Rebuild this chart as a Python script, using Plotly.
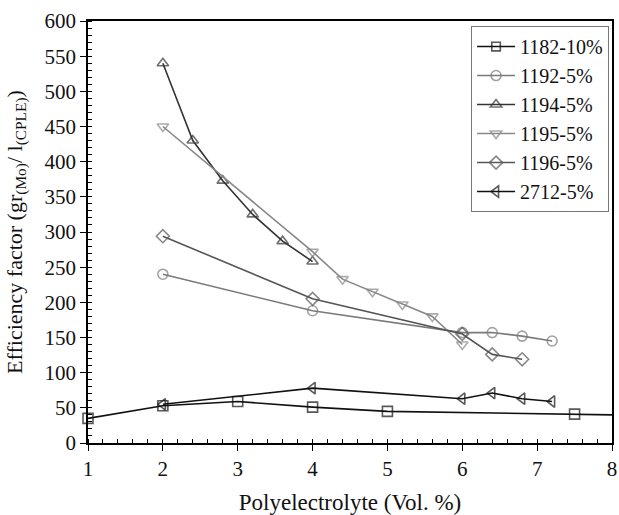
import plotly.graph_objects as go

# Data
x_1182 = [1, 2, 3, 4, 5, 7.5, 8]
y_1182 = [35, 53, 59, 51, 45, 41, 40]
x_1192 = [2, 4, 6, 6.4, 6.8, 7.2]
y_1192 = [240, 188, 157, 157, 152, 145]
x_1194 = [2, 2.4, 2.8, 3.2, 3.6, 4]
y_1194 = [540, 430, 373, 325, 287, 258]
x_1195 = [2, 4, 4.4, 4.8, 5.2, 5.6, 6]
y_1195 = [450, 272, 233, 215, 197, 180, 140]
x_1196 = [2, 4, 6, 6.4, 6.8]
y_1196 = [294, 205, 155, 126, 119]
x_2712 = [2, 4, 6, 6.4, 6.8, 7.2]
y_2712 = [55, 78, 63, 71, 63, 59]

series = [
    ("1182-10%", x_1182, y_1182, "square-open", "#111111"),
    ("1192-5%", x_1192, y_1192, "circle-open", "#7a7a7a"),
    ("1194-5%", x_1194, y_1194, "triangle-up-open", "#333333"),
    ("1195-5%", x_1195, y_1195, "triangle-down-open", "#888888"),
    ("1196-5%", x_1196, y_1196, "diamond-open", "#555555"),
    ("2712-5%", x_2712, y_2712, "triangle-left-open", "#111111"),
]

fig = go.Figure()
for name, xs, ys, sym, col in series:
    sizes = [10] * len(xs)
    if name == "1182-10%":
        sizes[-1] = 0
    fig.add_trace(go.Scatter(
        x=xs, y=ys, name=name, mode="lines+markers",
        line=dict(color=col, width=1.6),
        marker=dict(symbol=sym, size=sizes, color=col, line=dict(color=col, width=1.6)),
        cliponaxis=False,
    ))

font = "Liberation Serif"
fig.update_layout(
    width=619, height=515,
    margin=dict(l=88, r=7, t=21, b=72),
    paper_bgcolor="white", plot_bgcolor="white",
    font=dict(family=font, size=21, color="#111111"),
    legend=dict(
        x=0.731, y=0.988, xanchor="left", yanchor="top",
        bordercolor="#777777", borderwidth=1, bgcolor="white",
        font=dict(family=font, size=20), tracegroupgap=0,
        itemwidth=38,
    ),
    xaxis=dict(
        range=[1, 8], dtick=1, tick0=1, automargin=False,
        showline=True, linecolor="black", linewidth=1.5, mirror=True,
        ticks="outside", ticklen=6, tickwidth=1.2, tickcolor="black",
        tickfont=dict(family=font, size=21),
        minor=dict(ticks="inside", ticklen=4, dtick=0.2, tickcolor="black", tickwidth=1),
        showgrid=False, zeroline=False,
        title=dict(text="Polyelectrolyte (Vol. %)", font=dict(family=font, size=23), standoff=14),
    ),
    yaxis=dict(
        range=[0, 600], dtick=50, automargin=False,
        showline=True, linecolor="black", linewidth=1.5, mirror=True,
        ticks="outside", ticklen=6, tickwidth=1.2, tickcolor="black",
        tickfont=dict(family=font, size=21),
        minor=dict(ticks="inside", ticklen=4, dtick=10, tickcolor="black", tickwidth=1),
        showgrid=False, zeroline=False,
        title=dict(text="Efficiency factor (gr<sub>(Mo)</sub>/ l<sub>(CPLE)</sub>)", font=dict(family=font, size=22), standoff=16),
    ),
)

fig.write_html("out.html")
